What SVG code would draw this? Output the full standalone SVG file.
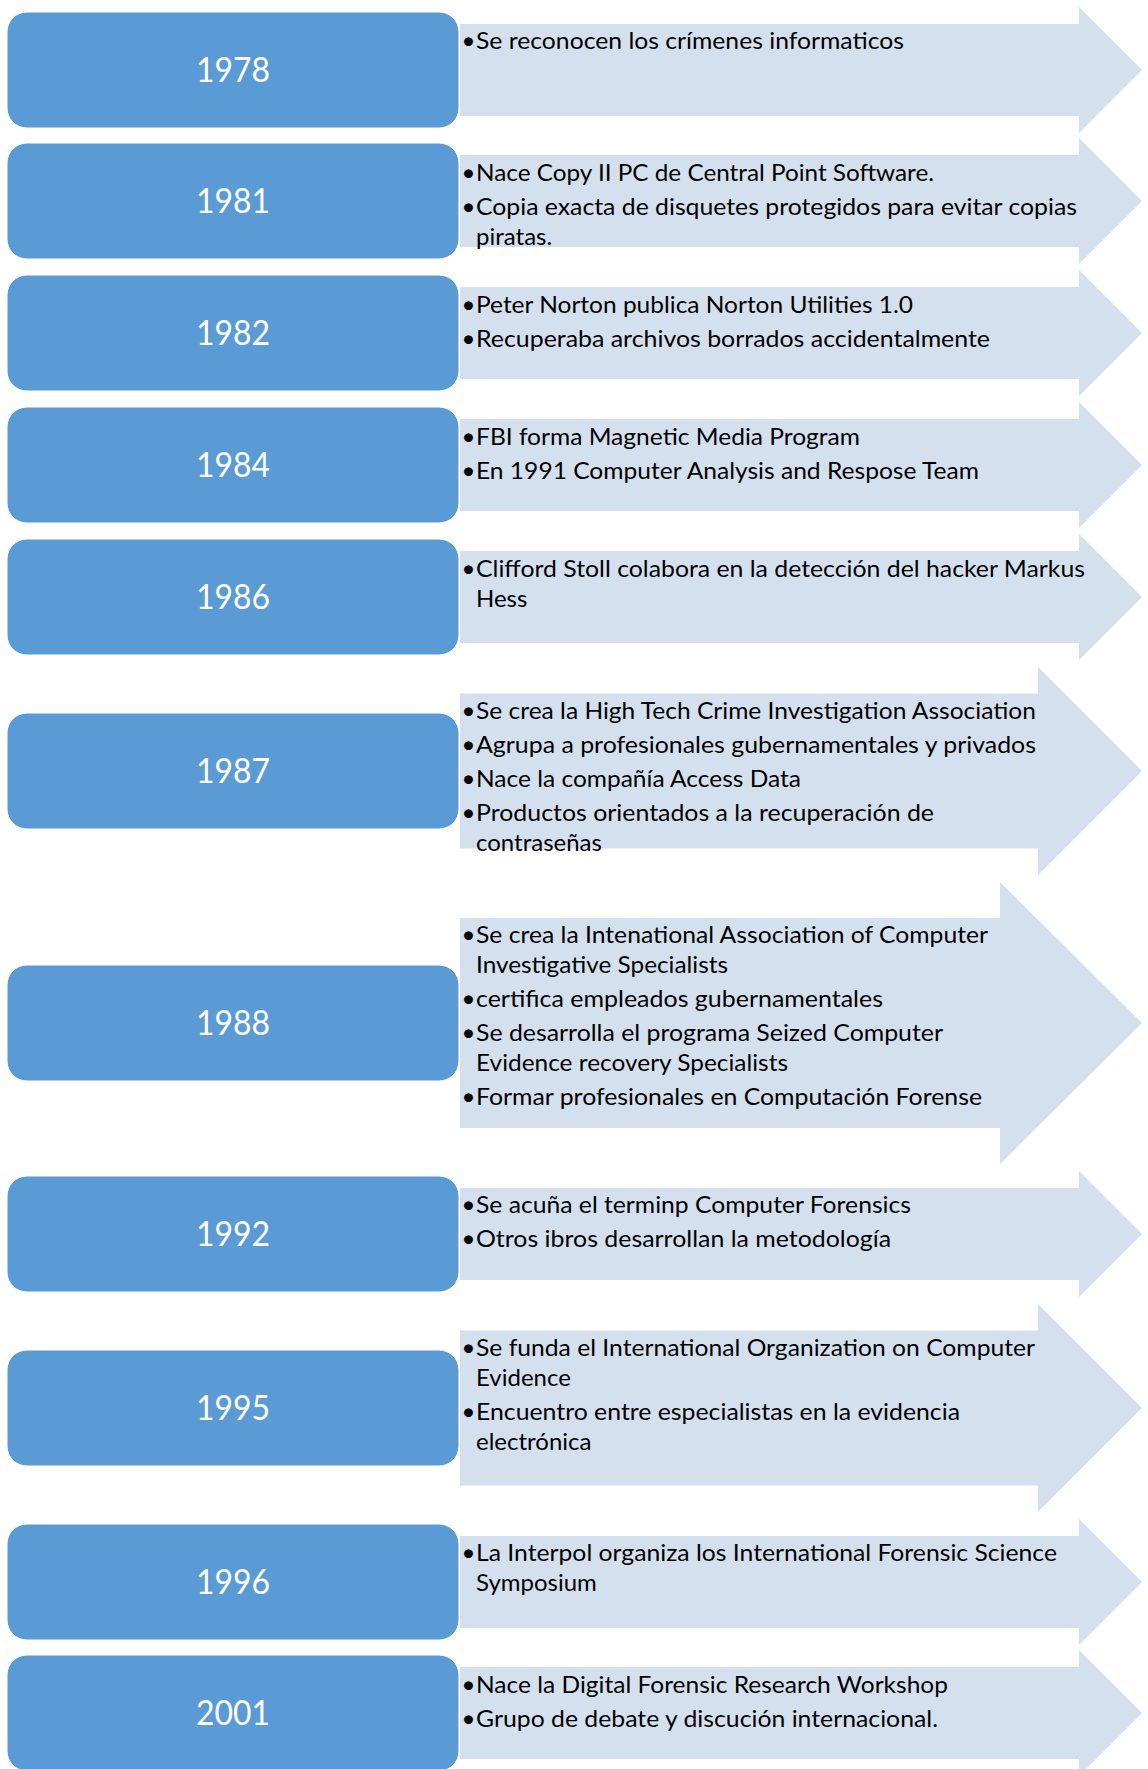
<svg xmlns="http://www.w3.org/2000/svg" width="1148" height="1769" viewBox="0 0 1148 1769">
<style>
.box{fill:#5B9BD5;stroke:#FFFFFF;stroke-width:1}
.arr{fill:#D5E0EF}
.yr{font-family:Lato,'Liberation Sans',sans-serif;font-size:34px;fill:#FFFFFF;text-anchor:middle}
.tx{font-family:Lato,'Liberation Sans',sans-serif;font-size:24px;fill:#000000}
.bu{font-family:Lato,'Liberation Sans',sans-serif;font-size:24px;fill:#000000;text-anchor:middle}
</style>
<rect width="1148" height="1769" fill="#FFFFFF"/>
<g id="connectors"></g>

<g id="n1978">
<path class="arr" d="M460,24 H1079 V7 L1142,70 L1079,133 V116 H460 Z"/>
<rect class="box" x="7" y="12" width="452" height="116" rx="20"/>
<text class="yr" x="233" y="82" textLength="74" lengthAdjust="spacingAndGlyphs">1978</text>
<text class="bu" x="468.5" y="49">•</text>
<text class="tx" x="476" y="49" textLength="428" lengthAdjust="spacingAndGlyphs">Se reconocen los crímenes informaticos</text>
</g>

<g id="n1981">
<path class="arr" d="M460,155 H1079 V138 L1142,201 L1079,264 V247 H460 Z"/>
<rect class="box" x="7" y="143" width="452" height="116" rx="20"/>
<text class="yr" x="233" y="213" textLength="74" lengthAdjust="spacingAndGlyphs">1981</text>
<text class="bu" x="468.5" y="181">•</text>
<text class="tx" x="476" y="181" textLength="458" lengthAdjust="spacingAndGlyphs">Nace Copy II PC de Central Point Software.</text>
<text class="bu" x="468.5" y="215">•</text>
<text class="tx" x="476" y="215" textLength="601" lengthAdjust="spacingAndGlyphs">Copia exacta de disquetes protegidos para evitar copias</text>
<text class="tx" x="476" y="245">piratas.</text>
</g>

<g id="n1982">
<path class="arr" d="M460,287 H1079 V270 L1142,333 L1079,396 V379 H460 Z"/>
<rect class="box" x="7" y="275" width="452" height="116" rx="20"/>
<text class="yr" x="233" y="345" textLength="74" lengthAdjust="spacingAndGlyphs">1982</text>
<text class="bu" x="468.5" y="313">•</text>
<text class="tx" x="476" y="313" textLength="437" lengthAdjust="spacingAndGlyphs">Peter Norton publica Norton Utilities 1.0</text>
<text class="bu" x="468.5" y="347">•</text>
<text class="tx" x="476" y="347" textLength="514" lengthAdjust="spacingAndGlyphs">Recuperaba archivos borrados accidentalmente</text>
</g>

<g id="n1984">
<path class="arr" d="M460,419 H1079 V402 L1142,465 L1079,528 V511 H460 Z"/>
<rect class="box" x="7" y="407" width="452" height="116" rx="20"/>
<text class="yr" x="233" y="477" textLength="74" lengthAdjust="spacingAndGlyphs">1984</text>
<text class="bu" x="468.5" y="445">•</text>
<text class="tx" x="476" y="445" textLength="384" lengthAdjust="spacingAndGlyphs">FBI forma Magnetic Media Program</text>
<text class="bu" x="468.5" y="479">•</text>
<text class="tx" x="476" y="479" textLength="503" lengthAdjust="spacingAndGlyphs">En 1991 Computer Analysis and Respose Team</text>
</g>

<g id="n1986">
<path class="arr" d="M460,551 H1079 V534 L1142,597 L1079,660 V643 H460 Z"/>
<rect class="box" x="7" y="539" width="452" height="116" rx="20"/>
<text class="yr" x="233" y="609" textLength="74" lengthAdjust="spacingAndGlyphs">1986</text>
<text class="bu" x="468.5" y="577">•</text>
<text class="tx" x="476" y="577" textLength="609" lengthAdjust="spacingAndGlyphs">Clifford Stoll colabora en la detección del hacker Markus</text>
<text class="tx" x="476" y="607">Hess</text>
</g>

<g id="n1987">
<path class="arr" d="M460,693.5 H1038 V667 L1142,771 L1038,875 V848.5 H460 Z"/>
<rect class="box" x="7" y="713" width="452" height="116" rx="20"/>
<text class="yr" x="233" y="783" textLength="74" lengthAdjust="spacingAndGlyphs">1987</text>
<text class="bu" x="468.5" y="719">•</text>
<text class="tx" x="476" y="719" textLength="560" lengthAdjust="spacingAndGlyphs">Se crea la High Tech Crime Investigation Association</text>
<text class="bu" x="468.5" y="753">•</text>
<text class="tx" x="476" y="753" textLength="560" lengthAdjust="spacingAndGlyphs">Agrupa a profesionales gubernamentales y privados</text>
<text class="bu" x="468.5" y="787">•</text>
<text class="tx" x="476" y="787" textLength="325" lengthAdjust="spacingAndGlyphs">Nace la compañía Access Data</text>
<text class="bu" x="468.5" y="821">•</text>
<text class="tx" x="476" y="821" textLength="458" lengthAdjust="spacingAndGlyphs">Productos orientados a la recuperación de</text>
<text class="tx" x="476" y="851">contraseñas</text>
</g>

<g id="n1988">
<path class="arr" d="M460,918 H1000 V882 L1142,1023 L1000,1164 V1128 H460 Z"/>
<rect class="box" x="7" y="965" width="452" height="116" rx="20"/>
<text class="yr" x="233" y="1035" textLength="74" lengthAdjust="spacingAndGlyphs">1988</text>
<text class="bu" x="468.5" y="943">•</text>
<text class="tx" x="476" y="943" textLength="512" lengthAdjust="spacingAndGlyphs">Se crea la Intenational Association of Computer</text>
<text class="tx" x="476" y="973" textLength="252" lengthAdjust="spacingAndGlyphs">Investigative Specialists</text>
<text class="bu" x="468.5" y="1007">•</text>
<text class="tx" x="476" y="1007" textLength="407" lengthAdjust="spacingAndGlyphs">certifica empleados gubernamentales</text>
<text class="bu" x="468.5" y="1041">•</text>
<text class="tx" x="476" y="1041" textLength="467" lengthAdjust="spacingAndGlyphs">Se desarrolla el programa Seized Computer</text>
<text class="tx" x="476" y="1071" textLength="312" lengthAdjust="spacingAndGlyphs">Evidence recovery Specialists</text>
<text class="bu" x="468.5" y="1105">•</text>
<text class="tx" x="476" y="1105" textLength="506" lengthAdjust="spacingAndGlyphs">Formar profesionales en Computación Forense</text>
</g>

<g id="n1992">
<path class="arr" d="M460,1188 H1079 V1171 L1142,1234 L1079,1297 V1280 H460 Z"/>
<rect class="box" x="7" y="1176" width="452" height="116" rx="20"/>
<text class="yr" x="233" y="1246" textLength="74" lengthAdjust="spacingAndGlyphs">1992</text>
<text class="bu" x="468.5" y="1213">•</text>
<text class="tx" x="476" y="1213" textLength="435" lengthAdjust="spacingAndGlyphs">Se acuña el terminp Computer Forensics</text>
<text class="bu" x="468.5" y="1247">•</text>
<text class="tx" x="476" y="1247" textLength="415" lengthAdjust="spacingAndGlyphs">Otros ibros desarrollan la metodología</text>
</g>

<g id="n1995">
<path class="arr" d="M460,1330.5 H1038 V1304 L1142,1408 L1038,1512 V1485.5 H460 Z"/>
<rect class="box" x="7" y="1350" width="452" height="116" rx="20"/>
<text class="yr" x="233" y="1420" textLength="74" lengthAdjust="spacingAndGlyphs">1995</text>
<text class="bu" x="468.5" y="1356">•</text>
<text class="tx" x="476" y="1356" textLength="559" lengthAdjust="spacingAndGlyphs">Se funda el International Organization on Computer</text>
<text class="tx" x="476" y="1386">Evidence</text>
<text class="bu" x="468.5" y="1420">•</text>
<text class="tx" x="476" y="1420" textLength="484" lengthAdjust="spacingAndGlyphs">Encuentro entre especialistas en la evidencia</text>
<text class="tx" x="476" y="1450">electrónica</text>
</g>

<g id="n1996">
<path class="arr" d="M460,1536 H1079 V1519 L1142,1582 L1079,1645 V1628 H460 Z"/>
<rect class="box" x="7" y="1524" width="452" height="116" rx="20"/>
<text class="yr" x="233" y="1594" textLength="74" lengthAdjust="spacingAndGlyphs">1996</text>
<text class="bu" x="468.5" y="1561">•</text>
<text class="tx" x="476" y="1561" textLength="581" lengthAdjust="spacingAndGlyphs">La Interpol organiza los International Forensic Science</text>
<text class="tx" x="476" y="1591">Symposium</text>
</g>

<g id="n2001">
<path class="arr" d="M460,1667 H1079 V1650 L1142,1713 L1079,1776 V1759 H460 Z"/>
<rect class="box" x="7" y="1655" width="452" height="116" rx="20"/>
<text class="yr" x="233" y="1725" textLength="74" lengthAdjust="spacingAndGlyphs">2001</text>
<text class="bu" x="468.5" y="1693">•</text>
<text class="tx" x="476" y="1693" textLength="472" lengthAdjust="spacingAndGlyphs">Nace la Digital Forensic Research Workshop</text>
<text class="bu" x="468.5" y="1727">•</text>
<text class="tx" x="476" y="1727" textLength="462" lengthAdjust="spacingAndGlyphs">Grupo de debate y discución internacional.</text>
</g>
</svg>
